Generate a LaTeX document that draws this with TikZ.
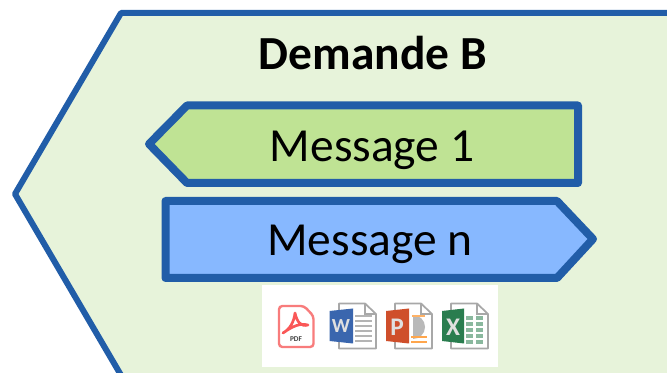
\documentclass[tikz,border=0pt]{standalone}
\usepackage{fontspec}
\setmainfont{Carlito}
\definecolor{edgeblue}{HTML}{215DA8}
\definecolor{panelgreen}{HTML}{E7F3DA}
\definecolor{msggreen}{HTML}{BFE394}
\definecolor{msgblue}{HTML}{87B8FF}
\definecolor{pagegrey}{HTML}{A8A8A8}
\definecolor{linegrey}{HTML}{B4B4B4}
\definecolor{pdfred}{HTML}{F87C7C}
\definecolor{wordblue}{HTML}{3A66AE}
\definecolor{pptorange}{HTML}{CF4F2B}
\definecolor{xlgreen}{HTML}{2A7D4F}
\tikzset{
  panel/.style={draw=edgeblue,line width=4.5pt,fill=panelgreen,line join=round},
  msgshape/.style={draw=edgeblue,line width=6pt,line join=round},
  msgtext/.style={font=\fontsize{35.6}{38}\selectfont,text=black,inner sep=0pt},
  titletext/.style={font=\fontsize{35.6}{38}\selectfont\bfseries,text=black,inner sep=0pt},
  docpage/.style={draw=pagegrey,line width=1.3pt,fill=white,line join=round},
  cover/.style={inner sep=0pt,text=white!88!black,font=\fontsize{15}{15}\selectfont\bfseries},
}
\newcommand{\docicon}[1]{%
  \begin{scope}[shift={(#1,0)}]
    \draw[docpage] (0,303.5) -- (26,303.5) -- (37,314) -- (37,348.5) -- (0,348.5) -- cycle;
    \draw[pagegrey,line width=1.1pt] (26,303.5) -- (26,314) -- (37,314);
  \end{scope}}
\begin{document}
\begin{tikzpicture}[x=0.75pt,y=-0.75pt]
\useasboundingbox (0,0) rectangle (667,373);
\begin{scope}
\clip (0,0) rectangle (667,373);
\draw[panel] (700,13) -- (121,13) -- (15,194) -- (125,382) -- (700,382);
\end{scope}
\node[titletext] (title) at (373,53) {Demande B};
\draw[msgshape,fill=msggreen] (578,105.5) -- (187,105.5) -- (149,144) -- (187,183) -- (578,183) -- cycle;
\node[msgtext] (msgone) at (372,150.5) {Message 1};
\draw[msgshape,fill=msgblue] (165.5,201) -- (557,201) -- (593,239) -- (557,278) -- (165.5,278) -- cycle;
\node[msgtext] (msgn) at (370,244.5) {Message n};
\fill[white] (262,285) rectangle (498,367);
% PDF icon
\draw[pdfred,line width=1.8pt,fill=white,rounded corners=2.5pt] (279,306) -- (304,306) -- (313.5,316) -- (313.5,347) -- (279,347) -- cycle;
\draw[pdfred!70!red,line width=2pt,line join=round] (295,313) .. controls (294,322) and (290,329) .. (283,333) .. controls (293,326) and (300,323) .. (308,325) .. controls (301,327) and (297,322) .. (295,313) -- cycle;
\node[inner sep=0pt,font=\fontsize{5.5}{6}\selectfont\bfseries,text=black!75] (pdflabel) at (296,339.5) {PDF};
% Word icon
\docicon{339}
\foreach \y in {316,321,326,331,336,341}
  \draw[linegrey,line width=1.3pt] (355,\y) -- (372,\y);
\fill[wordblue] (329.5,311) -- (353,308.5) -- (353,343.5) -- (329.5,341) -- cycle;
\node[cover] (wordlabel) at (341,326.5) {W};
% PowerPoint icon
\docicon{395}
\fill[pagegrey!80] (413,315) arc (90:-90:9pt) -- cycle;
\draw[orange!60,line width=1pt] (412,316) -- (425,316);
\draw[orange!70,line width=1.1pt] (411,337) -- (427,337) (411,342) -- (427,342);
\fill[pptorange] (386,311) -- (409,308.5) -- (409,343.5) -- (386,341) -- cycle;
\node[cover,font=\fontsize{19}{19}\selectfont\bfseries] (pptlabel) at (397,327) {P};
% Excel icon
\docicon{451}
\foreach \y in {318,324,330,336,342}
  \foreach \x in {466,476}
    \fill[xlgreen!55] (\x,\y-2) rectangle (\x+7,\y+2);
\fill[xlgreen] (442,311) -- (464,308.5) -- (464,343.5) -- (442,341) -- cycle;
\node[cover,font=\fontsize{19}{19}\selectfont\bfseries] (xllabel) at (453,327) {X};
\end{tikzpicture}
\end{document}
